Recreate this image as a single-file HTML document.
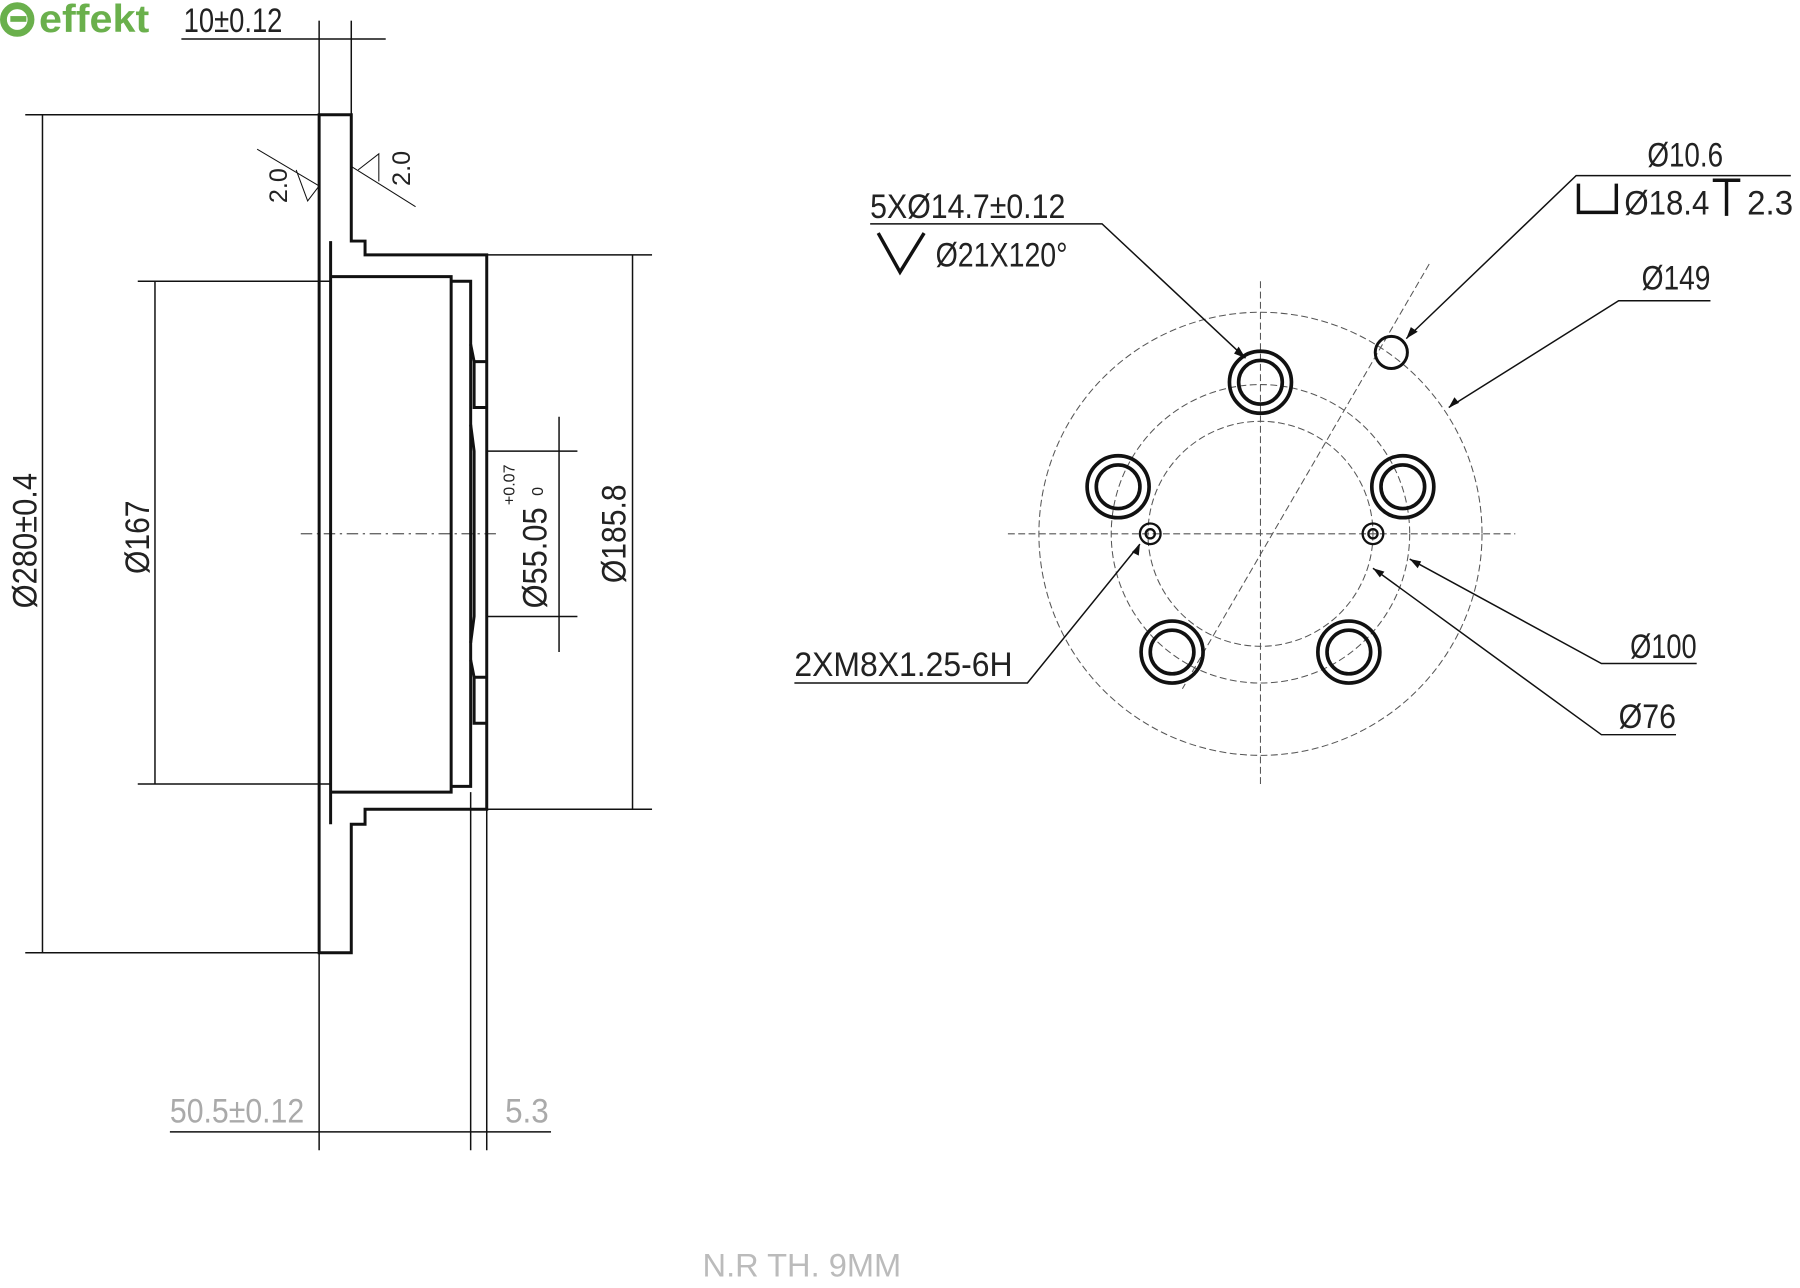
<!DOCTYPE html>
<html><head><meta charset="utf-8"><style>
html,body{margin:0;padding:0;background:#fff}
svg{display:block}
text{font-family:"Liberation Sans Narrow","Liberation Sans",sans-serif;fill:#222}
</style></head><body>
<svg width="1800" height="1288" viewBox="0 0 1568 1122" preserveAspectRatio="none" xmlns="http://www.w3.org/2000/svg">
<rect width="1568" height="1122" fill="#fff"/>
<!-- logo -->
<circle cx="15" cy="17" r="12" fill="none" stroke="#6ab04c" stroke-width="6"/>
<rect x="9" y="14" width="14" height="5" fill="#6ab04c"/>
<text x="34" y="28" font-size="34" font-weight="bold" textLength="96" lengthAdjust="spacingAndGlyphs" style="fill:#6ab04c;font-family:'Liberation Sans',sans-serif">effekt</text>

<g stroke="#111" fill="none" stroke-width="1.3">
<line x1="158" y1="34" x2="336" y2="34"/>
<line x1="278" y1="18" x2="278" y2="100"/>
<line x1="306" y1="18" x2="306" y2="100"/>
<g stroke-width="2.6">
<path d="M278 100 V830 H306 V718 H318 V705 H424 V222 H318 V210 H306 V100 Z"/>
<path d="M288 210 V718"/>
<path d="M288 241 H393 V690 H288"/>
<path d="M393 245 H410 V685 H393"/>
<path d="M410 300 L413 315 H424 M413 315 V355 H424 M410 370 L413 393 V537 L410 560"/>
<path d="M410 575 L413 590 H424 M413 590 V630 H424"/>
</g>
<line x1="22" y1="100" x2="278" y2="100"/>
<line x1="22" y1="830" x2="278" y2="830"/>
<line x1="37" y1="100" x2="37" y2="830"/>
<line x1="120" y1="245" x2="288" y2="245"/>
<line x1="120" y1="683" x2="288" y2="683"/>
<line x1="135" y1="245" x2="135" y2="683"/>
<line x1="424" y1="222" x2="568" y2="222"/>
<line x1="424" y1="705" x2="568" y2="705"/>
<line x1="551" y1="222" x2="551" y2="705"/>
<line x1="424" y1="393" x2="503" y2="393"/>
<line x1="424" y1="537" x2="503" y2="537"/>
<line x1="487" y1="363" x2="487" y2="568"/>
<line x1="262" y1="465" x2="435" y2="465" stroke-dasharray="10 4 2 4" stroke-width="0.8"/>
<line x1="278" y1="830" x2="278" y2="1002"/>
<line x1="410" y1="690" x2="410" y2="1002"/>
<line x1="424" y1="705" x2="424" y2="1002"/>
<line x1="148" y1="986" x2="480" y2="986"/>
<path d="M224 130 L278 162 M258 148 L268 175 L278 162" stroke-width="0.9"/>
<path d="M306 145 L362 180 M312 148 L330 134 L330 158" stroke-width="0.9"/>

<g stroke-width="0.9" stroke-dasharray="6 3" stroke="#555">
<circle cx="1098" cy="465" r="193"/>
<circle cx="1098" cy="465" r="130"/>
<circle cx="1098" cy="465" r="98"/>
<line x1="1098" y1="245" x2="1098" y2="685"/>
<line x1="878" y1="465" x2="1320" y2="465"/>
<line x1="1245" y1="230" x2="1030" y2="600"/>
</g>
<g stroke-width="3.2">
<circle cx="1098" cy="333" r="27"/><circle cx="1098" cy="333" r="19"/>
<circle cx="974" cy="424" r="27"/><circle cx="974" cy="424" r="19"/>
<circle cx="1222" cy="424" r="27"/><circle cx="1222" cy="424" r="19"/>
<circle cx="1021" cy="568" r="27"/><circle cx="1021" cy="568" r="19"/>
<circle cx="1175" cy="568" r="27"/><circle cx="1175" cy="568" r="19"/>
<circle cx="1212" cy="307" r="14" stroke-width="2.6"/>
<circle cx="1002" cy="465" r="9" stroke-width="2"/><circle cx="1002" cy="465" r="4" stroke-width="2"/>
<circle cx="1196" cy="465" r="9" stroke-width="2"/><circle cx="1196" cy="465" r="4" stroke-width="2"/>
</g>
<path d="M758 195 H960 L1085 312"/>
<path d="M1560 153 H1373 L1225 295"/>
<path d="M1490 262 H1410 L1262 355"/>
<path d="M1478 578 H1395 L1228 487"/>
<path d="M1460 640 H1395 L1196 495"/>
<path d="M692 595 H895 L993 474"/>
<path d="M765 203 L784 237 L805 203" stroke-width="3"/>
<path d="M1375 160 V185 H1408 V160" stroke-width="3"/>
<path d="M1492 157 H1516 M1504 157 V188" stroke-width="3"/>
</g>
<g fill="#111">
<path d="M1085 312 l-10 -4 l4 -6 z"/><path d="M1225 295 l4 -10 l6 4 z"/><path d="M1262 355 l5 -9 l4 5 z"/>
<path d="M1228 487 l10 2 l-3 6 z"/><path d="M1196 495 l10 3 l-4 5 z"/><path d="M993 474 l-1 10 l-6 -3 z"/>
</g>

<text x="160" y="28" font-size="30" textLength="86" lengthAdjust="spacingAndGlyphs">10±0.12</text>
<text transform="translate(32 530) rotate(-90)" font-size="30" textLength="118" lengthAdjust="spacingAndGlyphs">Ø280±0.4</text>
<text transform="translate(130 500) rotate(-90)" font-size="30" textLength="64" lengthAdjust="spacingAndGlyphs">Ø167</text>
<text transform="translate(545 508) rotate(-90)" font-size="30" textLength="86" lengthAdjust="spacingAndGlyphs">Ø185.8</text>
<text transform="translate(476 530) rotate(-90)" font-size="30" textLength="88" lengthAdjust="spacingAndGlyphs">Ø55.05</text>
<text transform="translate(448 440) rotate(-90)" font-size="14">+0.07</text>
<text transform="translate(473 432) rotate(-90)" font-size="14">0</text>
<text transform="translate(250 177) rotate(-90)" font-size="22">2.0</text>
<text transform="translate(357 162) rotate(-90)" font-size="22">2.0</text>
<text x="148" y="978" font-size="30" textLength="117" lengthAdjust="spacingAndGlyphs" style="fill:#aaa">50.5±0.12</text>
<text x="440" y="978" font-size="30" textLength="38" lengthAdjust="spacingAndGlyphs" style="fill:#aaa">5.3</text>
<text x="612" y="1112" font-size="28" textLength="173" lengthAdjust="spacingAndGlyphs" style="fill:#bbb">N.R TH. 9MM</text>
<text x="758" y="190" font-size="30" textLength="170" lengthAdjust="spacingAndGlyphs">5XØ14.7±0.12</text>
<text x="815" y="232" font-size="30" textLength="115" lengthAdjust="spacingAndGlyphs">Ø21X120°</text>
<text x="1435" y="145" font-size="30" textLength="66" lengthAdjust="spacingAndGlyphs">Ø10.6</text>
<text x="1415" y="187" font-size="30" textLength="74" lengthAdjust="spacingAndGlyphs">Ø18.4</text>
<text x="1522" y="187" font-size="30" textLength="40" lengthAdjust="spacingAndGlyphs">2.3</text>
<text x="1430" y="252" font-size="30" textLength="60" lengthAdjust="spacingAndGlyphs">Ø149</text>
<text x="1420" y="573" font-size="30" textLength="58" lengthAdjust="spacingAndGlyphs">Ø100</text>
<text x="1410" y="634" font-size="30" textLength="50" lengthAdjust="spacingAndGlyphs">Ø76</text>
<text x="692" y="589" font-size="30" textLength="190" lengthAdjust="spacingAndGlyphs">2XM8X1.25-6H</text>
</svg>
</body></html>
